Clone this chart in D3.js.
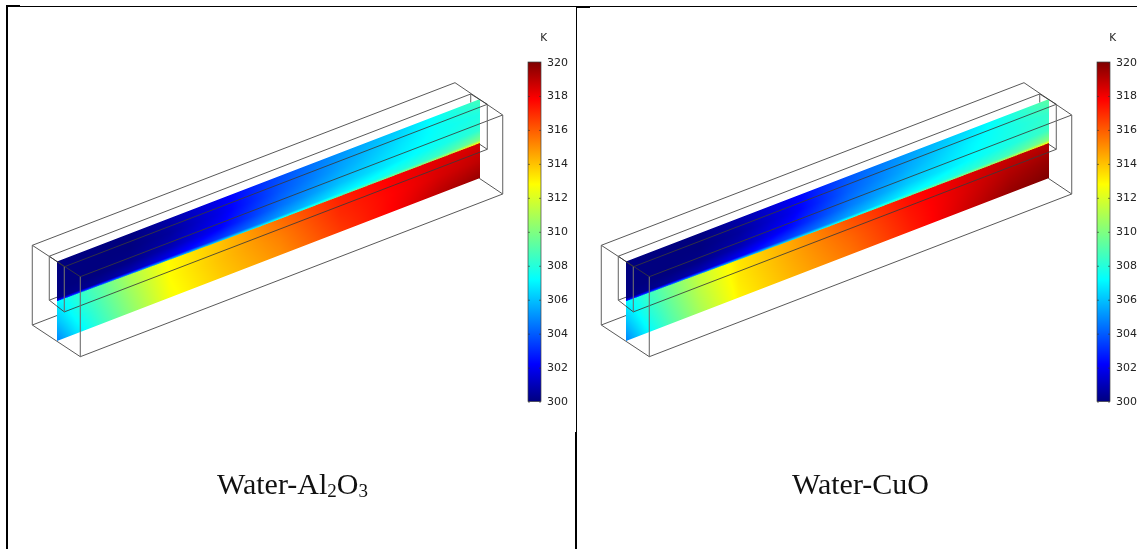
<!DOCTYPE html>
<html><head><meta charset="utf-8">
<style>
html,body{margin:0;padding:0;background:#fff;overflow:hidden}
#wrap{position:relative;width:1137px;height:549px;overflow:hidden}
canvas{position:absolute;left:0;top:0;filter:blur(.6px)}
svg{position:absolute;left:0;top:0}
</style>
<script src="https://cdn.jsdelivr.net/npm/d3@7"></script>
</head><body><div id="wrap"></div>
<script>
// ---- data (temperatures in K) ----
const colorTicks = [300,302,304,306,308,310,312,314,316,318,320];
const jetDomain = [300,302.2,307.2,312.8,317.8,320];
const jetColors = ["#00007f","#0000ff","#00ffff","#ffff00","#ff0000","#7f0000"];
const stationsAlong = [0,.043,.102,.173,.267,.386,.528,.671,.813,.908,1];
const upperRows = [0,.35,.7,.93,1];
const lowerRows = [0,.5,1];
const al2o3Upper = [
 [300,300,300,300,300.7,301.9,303.7,305.1,306.3,307.5,308.7],
 [300,300,300,300,300.5,301.8,303.9,305.4,306.7,307.4,307.8],
 [300,300,300,300.2,300.9,302.2,304.4,306,307,307.6,308.2],
 [300.1,300.2,300.4,300.9,301.9,303.3,305.2,306.9,307.9,308.6,310],
 [303,304,305,305.5,306,306.6,307.8,309,310,311,313]];
const al2o3Lower = [
 [307,308,309.2,311,312.9,314,315.7,317.2,318,318.3,318.5],
 [306,307.4,308.8,310.6,312.8,314,315.3,317,317.9,318.5,318.9],
 [304.8,306.5,308.3,310.2,312.6,313.8,315,316.7,318,319,319.6]];
const cuoUpper = [
 [300,300,300,300,300.7,301.9,303.9,305.3,306.6,307.8,309.2],
 [300,300,300,300,300.5,301.8,304.1,305.6,307,307.7,308.3],
 [300,300,300,300.2,300.9,302.4,304.6,306.2,307.2,307.8,308.5],
 [300.1,300.2,300.4,300.9,302,303.5,305.4,307.1,308.1,308.8,310.2],
 [303,304,305,305.7,306.3,306.8,308,309.2,310.3,311.2,313]];
const cuoLower = [
 [307,308.2,309.7,311.5,313.3,314.5,316.2,317.6,318.4,318.8,319],
 [306,307.6,309.3,311.2,313.2,314.4,315.8,317.4,318.5,319.2,319.6],
 [304.8,306.7,308.8,310.8,313,314.2,315.5,317.2,318.7,319.6,320]];
const panelNames = [
 {base:"Water-Al", parts:[["2",1],["O",0],["3",1]], upper:al2o3Upper, lower:al2o3Lower, dx:0, tx:217},
 {base:"Water-CuO", parts:[], upper:cuoUpper, lower:cuoLower, dx:569, tx:792}];

// ---- layout of the drawing ----
const W=1137,H=549;
const sl={x0:57,x1:479.3,top0:261.5,top1:99.3,bot0:341,bot1:178.3};
const A=[32.3,245.3],B=[80.3,276.7],C=[80.3,356.7],D=[32.3,325],
      A2=[455,82.7],B2=[502.7,115],C2=[502.7,194],
      E=[49.3,256.2],F=[64.3,266.8],G=[64.3,311.9],Hh=[49.3,300.2],
      E2=[470.7,94],F2=[487.3,104.3],G2=[487.3,149.3];
const thin=[[A,A2],[B,B2],[C,C2],[A,B],[D,C],[A2,B2],[C2,[479.3,178.3]],[D,[57,315.5]],
            [E,E2],[F,F2],[G,G2],[E,F],[Hh,G],[Hh,[57,297.2]],[[479.3,144],G2],[E2,F2]];
const verticals=[[A,D],[B,C],[B2,C2],[E,Hh],[F,G],[F2,G2],[E2,[470.7,102.6]]];

const color=d3.scaleLinear().domain(jetDomain).range(jetColors).clamp(true);
const wrap=d3.select("#wrap");
const canvas=wrap.append("canvas").attr("width",W).attr("height",H);
const ctx=canvas.node().getContext("2d");
const svg=wrap.append("svg").attr("width",W).attr("height",H);

const alongX=d3.scaleLinear().domain([sl.x0,sl.x1]).range([0,1]);
const topY=d3.scaleLinear().domain([0,1]).range([sl.top0,sl.top1]);
const botY=d3.scaleLinear().domain([0,1]).range([sl.bot0,sl.bot1]);
const intV=d3.scaleLinear().domain([0,.48,1]).range([.5,.543,.557]);

function drawField(p){
  const up=p.upper.map(r=>d3.scaleLinear().domain(stationsAlong).range(r));
  const lo=p.lower.map(r=>d3.scaleLinear().domain(stationsAlong).range(r));
  const img=ctx.createImageData(Math.ceil(sl.x1-sl.x0)+2,H);
  const px0=Math.round(sl.x0), subs=[.125,.375,.625,.875];
  for(let i=0;i<img.width;i++){
    const x=px0+i+.5; if(x>sl.x1+.5) continue;
    const u=Math.max(0,Math.min(1,alongX(x)));
    const t=topY(u),b=botY(u),iv=intV(u);
    const us=d3.scaleLinear().domain(upperRows).range(up.map(s=>s(u)));
    const ls=d3.scaleLinear().domain(lowerRows).range(lo.map(s=>s(u)));
    for(let y=Math.floor(t)-1;y<=Math.ceil(b)+1;y++){
      const cover=Math.max(0,Math.min(y+1,b)-Math.max(y,t));
      if(cover<=0) continue;
      let r=0,gr=0,bl=0;
      subs.forEach(s=>{
        const v=Math.max(0,Math.min(1,(y+s-t)/(b-t)));
        const T=v<iv?us(v/iv):ls((v-iv)/(1-iv));
        const c=d3.rgb(color(T));r+=c.r/4;gr+=c.g/4;bl+=c.b/4;
      });
      const k=(y*img.width+i)*4;
      img.data[k]=r;img.data[k+1]=gr;img.data[k+2]=bl;img.data[k+3]=255*cover;
    }
  }
  const tmp=document.createElement("canvas");tmp.width=img.width;tmp.height=H;
  tmp.getContext("2d").putImageData(img,0,0);
  ctx.drawImage(tmp,px0+p.dx,0);
}

// gradient for colour bar
const grad=svg.append("defs").append("linearGradient").attr("id","jet")
  .attr("x1",0).attr("x2",0).attr("y1",1).attr("y2",0);
grad.selectAll("stop").data(jetDomain).join("stop")
  .attr("offset",d=>(d-300)/20).attr("stop-color",d=>color(d));

panelNames.forEach(p=>{
  drawField(p);
  const g=svg.append("g").attr("transform",`translate(${p.dx},0)`);
  const ln=d3.line();
  g.append("g").selectAll("path").data(thin).join("path")
    .attr("d",d=>ln(d)).attr("fill","none").attr("stroke","#3a3a3a").attr("stroke-width",.85);
  g.append("g").selectAll("path").data(verticals).join("path")
    .attr("d",d=>ln(d)).attr("fill","none").attr("stroke","#6e6e6e").attr("stroke-width",1.1);
  // colour bar
  const cy=d3.scaleLinear().domain([300,320]).range([401.6,62]);
  const bar=g.append("g").style("filter","blur(.3px)");
  bar.append("rect").attr("x",528).attr("y",cy(320)).attr("width",13)
    .attr("height",cy(300)-cy(320)).attr("fill","url(#jet)").attr("stroke","#444").attr("stroke-width",.7);
  const axis=d3.axisRight(cy).tickValues(colorTicks).tickSize(0).tickPadding(6).tickFormat(d3.format("d"));
  const ag=bar.append("g").attr("transform","translate(541,0)").call(axis);
  ag.select(".domain").remove();
  ag.selectAll("text").attr("font-family","DejaVu Sans").attr("font-size",11).attr("fill","#222").attr("y",-.5);
  ag.selectAll(".tick").append("line").attr("x1",-2).attr("x2",0).attr("stroke","#333").attr("stroke-width",.6);
  ag.selectAll(".tick").append("line").attr("x1",-13).attr("x2",-11).attr("stroke","#333").attr("stroke-width",.6);
  bar.append("text").text("K").attr("x",540.3).attr("y",41).attr("font-family","DejaVu Sans").attr("font-size",10.5).attr("fill","#222");
  // caption
  const t=svg.append("text").attr("x",p.tx).attr("y",494).attr("font-family","Liberation Serif")
    .attr("font-size",30).attr("fill","#111");
  t.append("tspan").text(p.base);
  p.parts.forEach(([s,isSub],i)=>{
    const prev=i>0?p.parts[i-1][1]:0;
    t.append("tspan").text(s).attr("font-size",isSub?19:30).attr("dy",(isSub?3:0)-(prev?3:0));
  });
});

// table rules
const rules=[
 {x1:7,y1:5.5,x2:7,y2:549,w:2},{x1:6,y1:6.5,x2:576,y2:6.5,w:1},{x1:6,y1:6,x2:20,y2:6,w:2},
 {x1:576.5,y1:6,x2:576.5,y2:432,w:1},{x1:576,y1:432,x2:576,y2:549,w:2},
 {x1:576,y1:6.5,x2:1137,y2:6.5,w:1},{x1:577,y1:7,x2:590,y2:7,w:2}];
svg.append("g").selectAll("line").data(rules).join("line")
  .attr("x1",d=>d.x1).attr("y1",d=>d.y1).attr("x2",d=>d.x2).attr("y2",d=>d.y2)
  .attr("stroke","#000").attr("stroke-width",d=>d.w);
</script></body></html>
